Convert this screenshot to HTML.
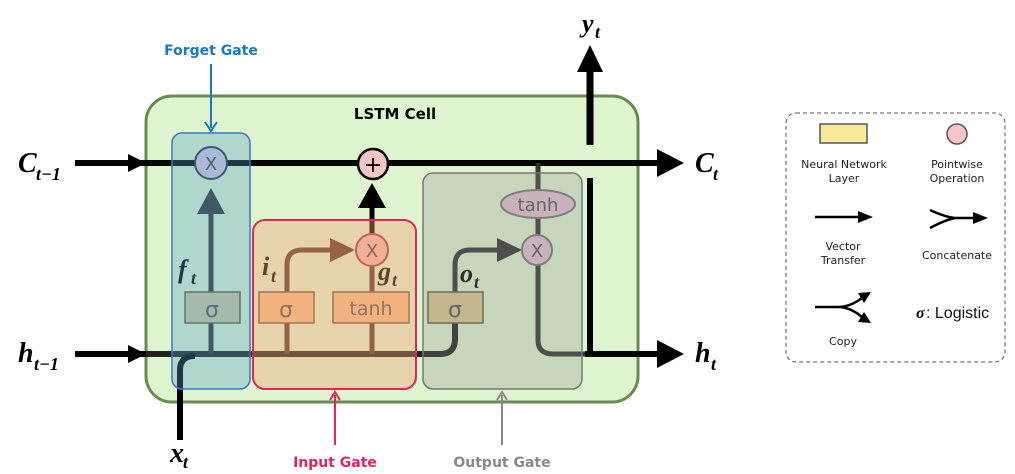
<!DOCTYPE html>
<html><head><meta charset="utf-8"><style>
html,body{margin:0;padding:0;background:#fff;}
svg{display:block;}
.m{font-family:"Liberation Serif",serif;font-style:italic;font-weight:bold;fill:#000;}
.s{font-family:"DejaVu Sans","Liberation Sans",sans-serif;}
</style></head><body>
<svg width="1015" height="474" viewBox="0 0 1015 474" xmlns="http://www.w3.org/2000/svg">
<!-- LSTM cell -->
<rect x="146" y="96" width="492" height="306" rx="26" fill="#dff5cf" stroke="#6a8a55" stroke-width="3"/>
<text x="395" y="119" class="s" font-size="15" font-weight="bold" text-anchor="middle">LSTM Cell</text>

<!-- y_t -->
<line x1="590" y1="145" x2="590" y2="70" stroke="#000" stroke-width="7"/>
<polygon points="577,72 603,72 590,45" fill="#000"/>
<text x="582" y="32" class="m" font-size="26">y</text><text x="595" y="38" class="m" font-size="18">t</text>

<!-- C line -->
<line x1="75" y1="163" x2="660" y2="163" stroke="#000" stroke-width="6"/>
<polygon points="128,154 146,163 128,172" fill="#000"/>
<text x="18" y="172" class="m" font-size="28">C</text><text x="36" y="180" class="m" font-size="18">t−1</text>
<polygon points="657,149 684,163 657,177" fill="#000"/>
<text x="695" y="172" class="m" font-size="28">C</text><text x="713" y="180" class="m" font-size="18">t</text>

<!-- h input -->
<line x1="75" y1="354" x2="146" y2="354" stroke="#000" stroke-width="6"/>
<polygon points="128,345 146,354 128,363" fill="#000"/>
<text x="18" y="362" class="m" font-size="28">h</text><text x="34" y="370" class="m" font-size="18">t−1</text>
<path d="M146,354 L440,354 Q455,354 455,339 L455,323" fill="none" stroke="#222" stroke-width="6"/>
<path d="M180,440 L180,370 Q180,356 195,356" fill="none" stroke="#000" stroke-width="6"/>
<text x="170" y="462" class="m" font-size="28">x</text><text x="183" y="468" class="m" font-size="18">t</text>

<!-- forget path -->
<line x1="211" y1="354" x2="211" y2="212" stroke="#333" stroke-width="5"/>
<polygon points="197,214 225,214 211,188" fill="#333"/>
<rect x="185" y="292" width="55" height="31" fill="#c9c99a" stroke="#6b5a3a" stroke-width="1.5"/>
<text x="212" y="317" class="s" font-size="22" text-anchor="middle" fill="#555">σ</text>
<circle cx="211" cy="163" r="16" fill="#d8c6e0" stroke="#333" stroke-width="2"/>
<text x="211" y="170" class="s" font-size="18" text-anchor="middle" fill="#444">X</text>
<text x="178" y="278" class="m" font-size="26">f</text><text x="191" y="284" class="m" font-size="18">t</text>

<!-- input gate paths -->
<path d="M287,354 L287,265 Q287,250 302,250 L340,250" fill="none" stroke="#5a3a2a" stroke-width="5"/>
<polygon points="330,238 355,250 330,262" fill="#5a3a2a"/>
<line x1="372" y1="354" x2="372" y2="265" stroke="#5a3a2a" stroke-width="5"/>
<line x1="372" y1="235" x2="372" y2="205" stroke="#000" stroke-width="5"/>
<polygon points="358,208 386,208 372,183" fill="#000"/>
<rect x="259" y="292" width="55" height="31" fill="#f4c08a" stroke="#6b5a3a" stroke-width="1.5"/>
<text x="286" y="317" class="s" font-size="22" text-anchor="middle" fill="#555">σ</text>
<rect x="333" y="292" width="76" height="31" fill="#f4c08a" stroke="#6b5a3a" stroke-width="1.5"/>
<text x="371" y="315" class="s" font-size="19" text-anchor="middle" fill="#555">tanh</text>
<circle cx="372" cy="250" r="16" fill="#f4b8b0" stroke="#a04040" stroke-width="2"/>
<text x="372" y="257" class="s" font-size="18" text-anchor="middle" fill="#444">X</text>
<circle cx="373" cy="164" r="15" fill="#f6c6c6" stroke="#000" stroke-width="2.5"/>
<text x="373" y="172" class="s" font-size="22" text-anchor="middle" fill="#000">+</text>
<text x="262" y="275" class="m" font-size="26">i</text><text x="271" y="282" class="m" font-size="18">t</text>
<text x="378" y="280" class="m" font-size="26">g</text><text x="392" y="286" class="m" font-size="18">t</text>

<!-- output paths -->
<path d="M455,292 L455,265 Q455,250 470,250 L505,250" fill="none" stroke="#333" stroke-width="5"/>
<polygon points="497,238 522,250 497,262" fill="#333"/>
<line x1="538" y1="163" x2="538" y2="235" stroke="#333" stroke-width="5"/>
<path d="M538,265 L538,340 Q538,354 553,354 L590,354" fill="none" stroke="#333" stroke-width="5"/>
<line x1="590" y1="178" x2="590" y2="354" stroke="#000" stroke-width="6"/>
<line x1="585" y1="354" x2="660" y2="354" stroke="#000" stroke-width="6"/>
<polygon points="657,340 684,354 657,368" fill="#000"/>
<text x="695" y="362" class="m" font-size="28">h</text><text x="711" y="370" class="m" font-size="18">t</text>
<rect x="428" y="292" width="55" height="31" fill="#d9c88e" stroke="#6b5a3a" stroke-width="1.5"/>
<text x="455" y="317" class="s" font-size="22" text-anchor="middle" fill="#555">σ</text>
<ellipse cx="538" cy="204" rx="37" ry="14" fill="#e0c2d2" stroke="#777" stroke-width="2"/>
<text x="538" y="211" class="s" font-size="18" text-anchor="middle" fill="#555">tanh</text>
<circle cx="537" cy="250" r="15" fill="#e0c2d2" stroke="#777" stroke-width="2"/>
<text x="537" y="257" class="s" font-size="18" text-anchor="middle" fill="#555">X</text>
<text x="460" y="282" class="m" font-size="26">o</text><text x="474" y="288" class="m" font-size="18">t</text>

<!-- gate overlays -->
<rect x="172" y="133" width="78" height="256" rx="10" fill="#5aa0c8" fill-opacity="0.35" stroke="#3a7ab8" stroke-width="1.5"/>
<rect x="253" y="220" width="163" height="169" rx="12" fill="#f0a070" fill-opacity="0.4" stroke="#e0245e" stroke-width="2"/>
<rect x="423" y="173" width="159" height="216" rx="10" fill="#909090" fill-opacity="0.3" stroke="#777" stroke-width="1.5"/>

<!-- gate labels -->
<text x="211" y="55" class="s" font-size="14" font-weight="bold" text-anchor="middle" fill="#1a7abf">Forget Gate</text>
<line x1="211" y1="64" x2="211" y2="128" stroke="#1a7abf" stroke-width="2"/>
<path d="M205,122 L211,131 L217,122" fill="none" stroke="#1a7abf" stroke-width="2"/>
<text x="335" y="467" class="s" font-size="14" font-weight="bold" text-anchor="middle" fill="#e0245e">Input Gate</text>
<line x1="335" y1="445" x2="335" y2="395" stroke="#e0245e" stroke-width="2"/>
<path d="M330,400 L335,392 L340,400" fill="none" stroke="#e0245e" stroke-width="2"/>
<text x="502" y="467" class="s" font-size="14" font-weight="bold" text-anchor="middle" fill="#888">Output Gate</text>
<line x1="502" y1="445" x2="502" y2="395" stroke="#888" stroke-width="2"/>
<path d="M497,400 L502,392 L507,400" fill="none" stroke="#888" stroke-width="2"/>

<!-- legend -->
<rect x="786" y="113" width="219" height="249" rx="10" fill="none" stroke="#555" stroke-width="1" stroke-dasharray="4,3"/>
<rect x="820" y="124" width="47" height="19" fill="#f6e99a" stroke="#555" stroke-width="1.5"/>
<circle cx="957" cy="134" r="10" fill="#f6c6c6" stroke="#555" stroke-width="1.5"/>
<g class="s" font-size="11" text-anchor="middle" fill="#222">
<text x="844" y="168">Neural Network</text><text x="844" y="182">Layer</text>
<text x="957" y="168">Pointwise</text><text x="957" y="182">Operation</text>
<text x="843" y="250">Vector</text><text x="843" y="264">Transfer</text>
<text x="957" y="259">Concatenate</text>
<text x="843" y="345">Copy</text>
</g>
<line x1="815" y1="217" x2="860" y2="217" stroke="#000" stroke-width="2.5"/>
<polygon points="858,211 873,217 858,223" fill="#000"/>
<path d="M930,210 Q945,217 955,218 M930,228 Q945,220 955,218 L975,218" fill="none" stroke="#000" stroke-width="2.5"/>
<polygon points="973,212 988,218 973,224" fill="#000"/>
<path d="M815,307 L838,307 Q850,307 862,298 M838,307 Q850,307 862,317" fill="none" stroke="#000" stroke-width="2.5"/>
<polygon points="858,293 871,292 864,303" fill="#000"/>
<polygon points="858,322 871,323 864,312" fill="#000"/>
<text x="916" y="318" font-family="Liberation Serif,serif" font-style="italic" font-weight="bold" font-size="16">σ</text>
<text x="926" y="318" font-family="Liberation Sans,sans-serif" font-size="16" fill="#111"> : Logistic</text>
</svg>
</body></html>
